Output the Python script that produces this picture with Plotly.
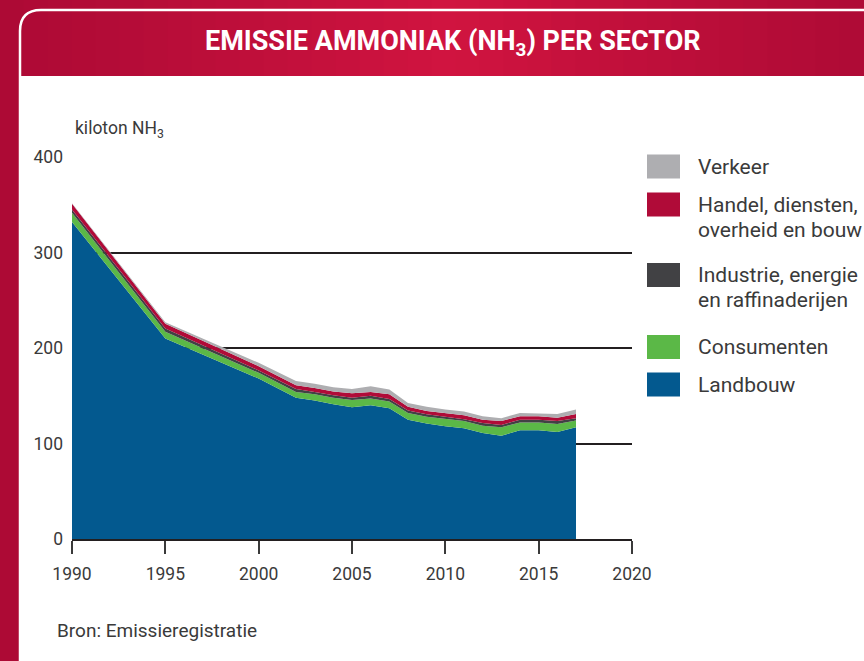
import plotly.graph_objects as go

# ---------------- data ----------------
years = [1990, 1995, 2000, 2001, 2002, 2003, 2004, 2005, 2006, 2007,
         2008, 2009, 2010, 2011, 2012, 2013, 2014, 2015, 2016, 2017]
landbouw = [332, 210, 168, 158, 148, 145, 141, 138, 140, 137,
            125, 121, 118, 116, 111, 108, 114, 114, 112, 117]
consumenten = [9.5, 7, 6, 6, 6, 6.5, 7, 7.5, 7, 7,
               7, 7, 7.5, 7.5, 7.5, 9, 8, 8, 8.5, 7]
industrie = [3.5, 3.5, 2.5, 2.5, 3, 2.5, 2.5, 2.5, 3, 2.5,
             2.5, 2.5, 2.5, 2, 3, 2.5, 3, 3, 3, 2.5]
handel = [6, 5, 4.5, 4.5, 4, 4, 4, 4.5, 4, 5,
          4, 3.5, 3.5, 4, 3.5, 4, 3.5, 3.5, 3.5, 4.5]
verkeer = [0.5, 1.5, 3.5, 4, 4.5, 4.5, 4.5, 4.5, 6, 5,
           4, 4.5, 4, 4, 3.5, 3, 3.5, 3, 4, 4.5]

series_names = ["Landbouw", "Consumenten", "Industrie, energie en raffinaderijen",
                "Handel, diensten, overheid en bouw", "Verkeer"]
series_values = [landbouw, consumenten, industrie, handel, verkeer]
series_colors = ["#03598f", "#5bb847", "#414144", "#b00b38", "#aeaeb1"]

legend_order = [4, 3, 2, 1, 0]
legend_lines = {
    4: ["Verkeer"],
    3: ["Handel, diensten,", "overheid en bouw"],
    2: ["Industrie, energie", "en raffinaderijen"],
    1: ["Consumenten"],
    0: ["Landbouw"],
}
x_ticks = [1990, 1995, 2000, 2005, 2010, 2015, 2020]
y_ticks = [0, 100, 200, 300, 400]

title_text = "EMISSIE AMMONIAK (NH<sub>3</sub>) PER SECTOR"
unit_text = "kiloton NH<sub>3</sub>"
source_text = "Bron: Emissieregistratie"

# ---------------- layout helpers ----------------
W, H = 864, 661
L, R, T, B = 72, 632, 157, 539  # plot area pixel box


def px(xp):
    return (xp - L) / (R - L)


def py(yp):
    return (B - yp) / (B - T)


FONT = "Roboto"
TXT = "#3a3a3a"

fig = go.Figure()
for name, vals, col in zip(series_names, series_values, series_colors):
    fig.add_trace(go.Scatter(
        x=years, y=vals, name=name, stackgroup="one", mode="lines",
        line=dict(width=0, color=col), fillcolor=col, showlegend=False,
    ))

shapes = []


def mix(c1, c2, t):
    a = [int(c1[i:i + 2], 16) for i in (1, 3, 5)]
    b = [int(c2[i:i + 2], 16) for i in (1, 3, 5)]
    return "#" + "".join("%02x" % round(a[k] + (b[k] - a[k]) * t) for k in range(3))


edge, center = "#ad0a35", "#d11440"
N = 36
sw = W / N
for i in range(N):
    xc = (i + 0.5) * sw
    t = 1 - abs(xc - 450) / 450
    t = max(0, min(1, t)) ** 1.2
    shapes.append(dict(type="rect", xref="paper", yref="paper", layer="below",
                       x0=px(i * sw - 0.5), x1=px((i + 1) * sw + 0.5),
                       y0=py(0), y1=py(76), fillcolor=mix(edge, center, t),
                       line=dict(width=0)))
# white content area
shapes.append(dict(type="rect", xref="paper", yref="paper", layer="below",
                   x0=px(20), x1=px(880), y0=py(76), y1=py(700),
                   fillcolor="white", line=dict(width=0)))
# white rounded outline
path = "M {a},{b} L {a},{c} Q {a},{d} {e},{d} L {f},{d}".format(
    a=px(20), b=py(700), c=py(31), d=py(10), e=px(41), f=px(880))
shapes.append(dict(type="path", xref="paper", yref="paper", layer="below",
                   path=path, line=dict(color="white", width=2.5)))

# legend boxes and text
annotations = []
box_y = {4: 166.5, 3: 204.5, 2: 275, 1: 347, 0: 384.5}
for idx in legend_order:
    cy = box_y[idx]
    shapes.append(dict(type="rect", xref="paper", yref="paper",
                       x0=px(647), x1=px(680), y0=py(cy - 12), y1=py(cy + 12),
                       fillcolor=series_colors[idx], line=dict(width=0)))
    for k, line in enumerate(legend_lines[idx]):
        annotations.append(dict(xref="paper", yref="paper", x=px(696),
                                y=py(cy + 25 * k), xanchor="left", yanchor="middle",
                                text=line, showarrow=False,
                                font=dict(family=FONT, size=21, color=TXT)))

annotations.append(dict(xref="paper", yref="paper", x=px(453), y=py(43),
                        xanchor="center", yanchor="middle", text="<b>" + title_text + "</b>",
                        showarrow=False, font=dict(family=FONT, size=27, color="white")))
annotations.append(dict(xref="paper", yref="paper", x=px(73), y=py(130),
                        xanchor="left", yanchor="middle", text=unit_text,
                        showarrow=False, font=dict(family=FONT, size=17.5, color=TXT)))
annotations.append(dict(xref="paper", yref="paper", x=px(55), y=py(630),
                        xanchor="left", yanchor="middle", text=source_text,
                        showarrow=False, font=dict(family=FONT, size=19, color=TXT)))

fig.update_layout(
    width=W, height=H,
    margin=dict(l=L, r=W - R, t=T, b=H - B, pad=0),
    paper_bgcolor=edge, plot_bgcolor="rgba(0,0,0,0)",
    shapes=shapes, annotations=annotations,
    font=dict(family=FONT, color=TXT),
    xaxis=dict(range=[1990, 2020], tickvals=x_ticks, ticks="outside", ticklen=13,
               tickwidth=2, tickcolor="#3a3a3a", showline=True, linecolor="#231f20",
               linewidth=2, showgrid=False, zeroline=False, ticklabelstandoff=5,
               tickfont=dict(family=FONT, size=17.5, color=TXT), fixedrange=True),
    yaxis=dict(range=[0, 400], tickvals=y_ticks, showgrid=True, gridcolor="#231f20",
               gridwidth=1.5, zeroline=False, showline=False, ticks="",
               ticklabelstandoff=8, tickfont=dict(family=FONT, size=17.5, color=TXT),
               fixedrange=True),
    showlegend=False,
)

fig.write_html(
    "out.html",
    config={"displayModeBar": False},
    post_script="document.body.style.margin='0';document.body.style.overflow='hidden';",
)
